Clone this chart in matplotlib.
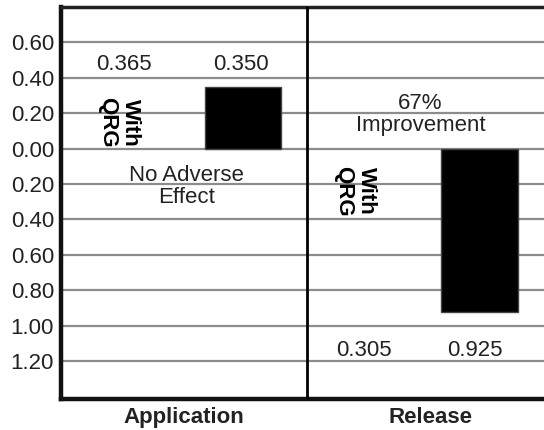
import numpy as np
import matplotlib.pyplot as plt

plt.rcParams['font.family'] = ['Liberation Sans', 'DejaVu Sans']

# data
groups = ['Application', 'Release']
qrg_vals = [0.365, -0.305]      # "With QRG" (drawn without fill)
other_vals = [0.350, -0.925]    # black bars
qrg_labels = ['0.365', '0.305']
other_labels = ['0.350', '0.925']
yticks = [0.6, 0.4, 0.2, 0.0, -0.2, -0.4, -0.6, -0.8, -1.0, -1.2]
notes = ['No Adverse\nEffect', '67%\nImprovement']

fig = plt.figure(figsize=(5.44, 4.30), dpi=100)
ax = fig.add_axes([0.112, 0.072, 0.905, 0.912])

qrg_x = [0.236, 1.195]
blk_x = [0.74, 1.70]

ax.bar(qrg_x, qrg_vals, width=0.31, facecolor='none', edgecolor='none', zorder=1)
ax.bar(blk_x, other_vals, width=0.31, color='black', edgecolor='#444444', linewidth=1, zorder=3)

# rotated "With QRG" labels
ax.text(0.236, 0.147, 'With\nQRG', rotation=-90, ha='center', va='center',
        fontsize=16, fontweight='bold', linespacing=1.1, zorder=4)
ax.text(1.195, -0.24, 'With\nQRG', rotation=-90, ha='center', va='center',
        fontsize=16, fontweight='bold', linespacing=1.1, zorder=4)

# value labels
ax.text(0.256, 0.476, qrg_labels[0], ha='center', va='center', fontsize=16, color='#222222')
ax.text(0.73, 0.476, other_labels[0], ha='center', va='center', fontsize=16, color='#222222')
ax.text(1.23, -1.14, qrg_labels[1], ha='center', va='center', fontsize=16, color='#222222')
ax.text(1.68, -1.14, other_labels[1], ha='center', va='center', fontsize=16, color='#222222')

ax.text(0.51, -0.215, notes[0], ha='center', va='center', fontsize=16, color='#222222',
        linespacing=1.05)
ax.text(1.46, 0.19, notes[1], ha='center', va='center', fontsize=16, color='#222222',
        linespacing=1.05)

ax.set_xlim(0, 2)
ax.set_ylim(-1.415, 0.80)
ax.set_yticks(yticks)
ax.set_yticklabels(['%.2f' % abs(v) for v in yticks])
ax.set_xticks([0.5, 1.5])
ax.set_xticklabels(groups, fontweight='bold')
ax.tick_params(axis='both', length=0, labelsize=16, labelcolor='#222222')
ax.tick_params(axis='y', pad=5)
ax.tick_params(axis='x', pad=6)

ax.yaxis.grid(True, color='#8c8c8c', linewidth=1.6)
ax.set_axisbelow(True)
ax.axvline(1.0, color='black', linewidth=2, zorder=5)

ax.spines['right'].set_visible(False)
ax.spines['left'].set_linewidth(3.2)
ax.spines['bottom'].set_linewidth(3.2)
ax.spines['top'].set_linewidth(2.5)
ax.spines['top'].set_color('#222222')
ax.spines['left'].set_color('#111111')
ax.spines['bottom'].set_color('#111111')

fig.savefig('out.png', dpi=100)
